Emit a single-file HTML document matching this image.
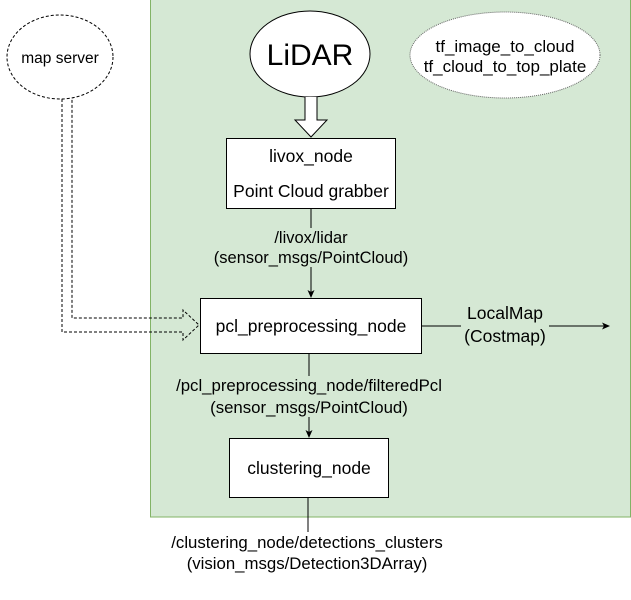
<!DOCTYPE html>
<html><head><meta charset="utf-8"><style>body{margin:0;background:#fff}svg text{font-family:"Liberation Sans",sans-serif;fill:#000}</style></head><body>
<svg width="631" height="595" viewBox="0 0 631 595" xmlns="http://www.w3.org/2000/svg">
<defs><marker id="a" markerWidth="8" markerHeight="8" refX="7" refY="4" orient="auto" markerUnits="userSpaceOnUse"><path d="M0,0.5 L8,4 L0,7.5 L2,4 Z" fill="#000"/></marker></defs>
<rect x="150.5" y="-2" width="480" height="519" fill="#d5e8d4" stroke="#82b366" stroke-width="1"/>
<ellipse cx="60" cy="57" rx="53" ry="42" fill="#fff" stroke="#000" stroke-dasharray="3,2"/>
<text x="60" y="63" font-size="15.5" text-anchor="middle">map server</text>
<path d="M62,99 V332 H183 V340 L199,325 L183,310 V318 H72 V99" fill="none" stroke="#000" stroke-dasharray="3,2"/>
<ellipse cx="310" cy="54" rx="60" ry="43" fill="#fff" stroke="#000"/>
<text x="310" y="65" font-size="30" text-anchor="middle">LiDAR</text>
<ellipse cx="505" cy="55" rx="95" ry="43" fill="#fff" stroke="#666" stroke-dasharray="1,1"/>
<text x="505" y="52" font-size="17" text-anchor="middle">tf_image_to_cloud</text>
<text x="505" y="72" font-size="17" text-anchor="middle">tf_cloud_to_top_plate</text>
<path d="M305,97 V120 H295 L311,137 L327,120 H317 V97" fill="#fff" stroke="#000"/>
<rect x="226.5" y="138.5" width="169" height="70" fill="#fff" stroke="#000"/>
<text x="311" y="162" font-size="17.5" text-anchor="middle">livox_node</text>
<text x="311" y="197" font-size="17.5" text-anchor="middle">Point Cloud grabber</text>
<line x1="311" y1="209" x2="311" y2="228" stroke="#000"/>
<line x1="311" y1="267" x2="311" y2="297" stroke="#000" marker-end="url(#a)"/>
<text x="311" y="243" font-size="16.5" text-anchor="middle">/livox/lidar</text>
<text x="311" y="263" font-size="16.5" text-anchor="middle">(sensor_msgs/PointCloud)</text>
<rect x="200.5" y="298.5" width="221" height="55" fill="#fff" stroke="#000"/>
<text x="311" y="332" font-size="17.5" text-anchor="middle">pcl_preprocessing_node</text>
<line x1="422" y1="326" x2="461" y2="326" stroke="#000"/>
<line x1="549" y1="326" x2="609" y2="326" stroke="#000" marker-end="url(#a)"/>
<text x="505" y="319" font-size="17.5" text-anchor="middle">LocalMap</text>
<text x="505" y="342" font-size="17.5" text-anchor="middle">(Costmap)</text>
<line x1="309" y1="354" x2="309" y2="376" stroke="#000"/>
<line x1="309" y1="417" x2="309" y2="437" stroke="#000" marker-end="url(#a)"/>
<text x="309" y="391" font-size="16.8" text-anchor="middle">/pcl_preprocessing_node/filteredPcl</text>
<text x="309" y="413" font-size="16.8" text-anchor="middle">(sensor_msgs/PointCloud)</text>
<rect x="229.5" y="438.5" width="159" height="59" fill="#fff" stroke="#000"/>
<text x="309" y="474" font-size="17.5" text-anchor="middle">clustering_node</text>
<line x1="308" y1="498" x2="308" y2="532" stroke="#000"/>
<text x="307" y="548" font-size="16.8" text-anchor="middle">/clustering_node/detections_clusters</text>
<text x="307" y="569" font-size="16.8" text-anchor="middle">(vision_msgs/Detection3DArray)</text>
</svg>
</body></html>
